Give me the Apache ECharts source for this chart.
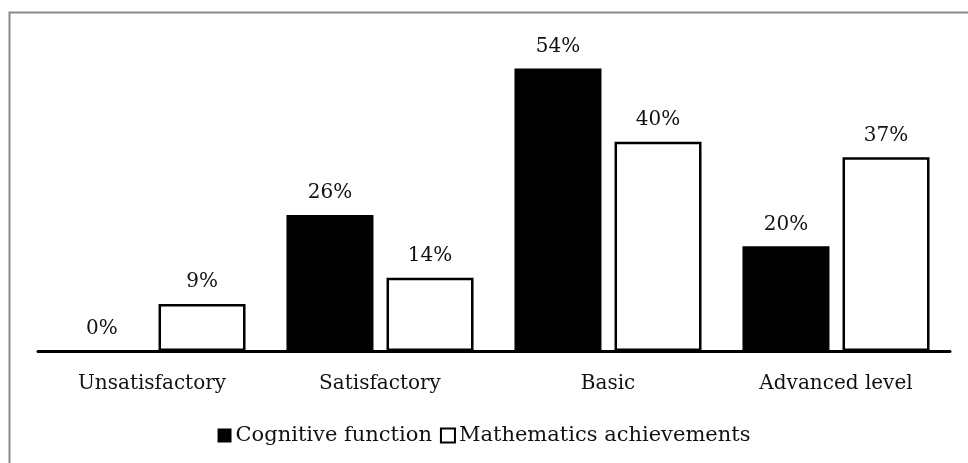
<!DOCTYPE html>
<html>
<head>
<meta charset="utf-8">
<script src="https://cdn.jsdelivr.net/npm/echarts@6/dist/echarts.min.js"></script>
<style>html,body{margin:0;padding:0;background:#fff}#c{width:968px;height:463px}</style>
</head>
<body>
<div id="c"></div>
<script>
const categories = ['Unsatisfactory', 'Satisfactory', 'Basic', 'Advanced level'];
const cognitive = [0, 26, 54, 20];
const mathematics = [9, 14, 40, 37];
const seriesNames = ['Cognitive function', 'Mathematics achievements'];

const FONT = 'DejaVu Serif';
const FS = 20;
const chart = echarts.init(document.getElementById('c'));
const lbl = {
  show: true, position: 'top', distance: 12,
  formatter: p => p.value + '%',
  fontFamily: FONT, fontSize: FS, color: '#111'
};
chart.setOption({
  animation: false,
  backgroundColor: '#fff',
  graphic: [{
    type: 'polyline',
    shape: { points: [[9.5, 463], [9.5, 12.5], [968, 12.5]] },
    style: { stroke: '#8a8a8a', lineWidth: 2, fill: null },
    silent: true
  }],
  legend: {
    bottom: 12, left: 'center',
    itemWidth: 14, itemHeight: 14, itemGap: 8,
    icon: 'rect',
    textStyle: { fontFamily: FONT, fontSize: 21, color: '#111', padding: [0, 0, 0, -1] },
    data: seriesNames
  },
  grid: { left: 38, right: 18, top: 37, bottom: 112 },
  xAxis: {
    type: 'category', data: categories,
    axisLine: { lineStyle: { color: '#000', width: 3 } },
    axisTick: { show: false },
    axisLabel: { margin: 23, fontFamily: FONT, fontSize: FS, color: '#111' }
  },
  yAxis: { type: 'value', min: 0, max: 60, show: false, splitLine: { show: false } },
  series: [
    {
      name: seriesNames[0], type: 'bar', data: cognitive,
      barWidth: 87, barGap: '15%',
      itemStyle: { color: '#000' },
      label: lbl
    },
    {
      name: seriesNames[1], type: 'bar', data: mathematics,
      barWidth: 87,
      itemStyle: { color: '#fff', borderColor: '#000', borderWidth: 2.5 },
      label: lbl
    }
  ]
});
</script>
</body>
</html>
